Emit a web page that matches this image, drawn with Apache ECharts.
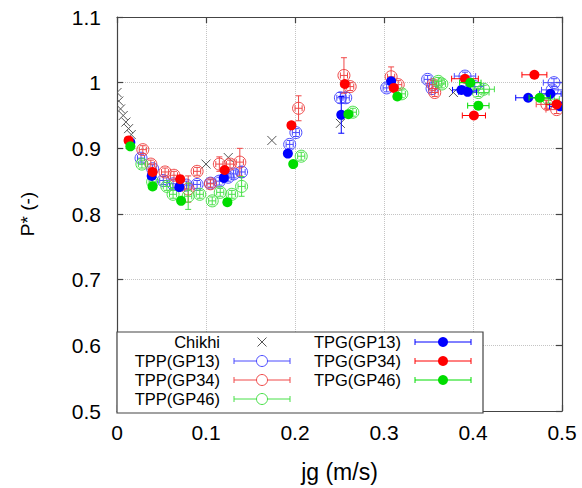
<!DOCTYPE html>
<html><head><meta charset="utf-8">
<script src="https://cdn.jsdelivr.net/npm/echarts@6/dist/echarts.min.js"></script>
<style>html,body{margin:0;padding:0;background:#fff}#c{width:582px;height:488px}</style>
</head><body><div id="c"></div>
<script>
// ---------- data (x = jg, y = P*, xerr, yerr) ----------
const xTicks = [0, 0.1, 0.2, 0.3, 0.4, 0.5];
const xTickLabels = ['0', '0.1', '0.2', '0.3', '0.4', '0.5'];
const yTicks = [0.5, 0.6, 0.7, 0.8, 0.9, 1.0, 1.1];
const yTickLabels = ['0.5', '0.6', '0.7', '0.8', '0.9', '1', '1.1'];

const seriesNames = ['Chikhi', 'TPP(GP13)', 'TPP(GP34)', 'TPP(GP46)', 'TPG(GP13)', 'TPG(GP34)', 'TPG(GP46)'];

const chikhi = [
  [0.000, 0.985], [0.002, 0.972], [0.004, 0.960], [0.007, 0.950], [0.010, 0.940], [0.013, 0.930], [0.016, 0.921],
  [0.100, 0.876], [0.125, 0.886], [0.174, 0.912], [0.251, 0.938], [0.378, 0.985]
];
const tppGP13 = [
  [0.027, 0.885, 0.004, 0.006], [0.040, 0.869, 0.004, 0.006], [0.052, 0.851, 0.004, 0.006],
  [0.063, 0.846, 0.004, 0.006], [0.078, 0.844, 0.004, 0.006], [0.090, 0.845, 0.004, 0.006],
  [0.105, 0.847, 0.004, 0.006], [0.115, 0.850, 0.004, 0.006], [0.125, 0.856, 0.004, 0.006],
  [0.131, 0.861, 0.004, 0.006], [0.140, 0.864, 0.004, 0.008], [0.194, 0.906, 0.004, 0.006],
  [0.201, 0.924, 0.004, 0.006], [0.251, 0.977, 0.004, 0.008], [0.257, 0.977, 0.004, 0.008],
  [0.303, 0.992, 0.004, 0.006], [0.349, 1.005, 0.004, 0.006], [0.354, 0.991, 0.004, 0.006],
  [0.391, 1.010, 0.012, 0.006], [0.402, 0.994, 0.010, 0.006], [0.491, 1.000, 0.012, 0.006],
  [0.489, 0.989, 0.012, 0.006]
];
const tppGP34 = [
  [0.029, 0.898, 0.004, 0.006], [0.038, 0.876, 0.004, 0.006], [0.054, 0.864, 0.004, 0.006],
  [0.064, 0.859, 0.004, 0.006], [0.080, 0.838, 0.004, 0.020], [0.090, 0.865, 0.004, 0.006],
  [0.105, 0.846, 0.004, 0.006], [0.115, 0.876, 0.004, 0.011], [0.127, 0.876, 0.004, 0.006],
  [0.138, 0.879, 0.004, 0.021], [0.204, 0.961, 0.004, 0.019], [0.255, 1.011, 0.004, 0.027],
  [0.262, 0.994, 0.004, 0.006], [0.308, 1.009, 0.004, 0.015], [0.316, 0.997, 0.004, 0.006],
  [0.355, 0.997, 0.004, 0.006], [0.357, 0.985, 0.004, 0.006], [0.483, 0.967, 0.012, 0.006],
  [0.494, 0.959, 0.012, 0.006]
];
const tppGP46 = [
  [0.028, 0.876, 0.004, 0.006], [0.040, 0.849, 0.004, 0.006], [0.056, 0.842, 0.004, 0.006],
  [0.063, 0.830, 0.004, 0.006], [0.080, 0.827, 0.004, 0.020], [0.093, 0.830, 0.004, 0.006],
  [0.107, 0.820, 0.004, 0.006], [0.116, 0.833, 0.004, 0.006], [0.129, 0.830, 0.004, 0.006],
  [0.140, 0.842, 0.004, 0.015], [0.207, 0.888, 0.004, 0.006], [0.265, 0.955, 0.004, 0.006],
  [0.320, 0.983, 0.004, 0.006], [0.361, 1.002, 0.004, 0.006], [0.365, 0.998, 0.004, 0.006],
  [0.406, 0.985, 0.012, 0.006], [0.412, 0.990, 0.012, 0.006], [0.485, 0.975, 0.012, 0.006]
];
const tpgGP13 = [
  [0.015, 0.909, 0.004, 0.004], [0.039, 0.858, 0.004, 0.004], [0.070, 0.841, 0.004, 0.004],
  [0.120, 0.855, 0.004, 0.004], [0.192, 0.892, 0.004, 0.004], [0.252, 0.951, 0.004, 0.028],
  [0.308, 1.002, 0.004, 0.004], [0.387, 0.989, 0.010, 0.004], [0.394, 0.986, 0.010, 0.004],
  [0.462, 0.977, 0.014, 0.004], [0.487, 0.983, 0.012, 0.004], [0.498, 0.964, 0.012, 0.004]
];
const tpgGP34 = [
  [0.013, 0.912, 0.004, 0.004], [0.040, 0.864, 0.004, 0.004], [0.071, 0.853, 0.004, 0.004],
  [0.121, 0.867, 0.004, 0.004], [0.196, 0.935, 0.004, 0.004], [0.256, 0.998, 0.004, 0.004],
  [0.311, 0.992, 0.004, 0.004], [0.391, 1.006, 0.015, 0.004], [0.401, 0.950, 0.013, 0.004],
  [0.469, 1.012, 0.014, 0.004], [0.494, 0.967, 0.012, 0.004]
];
const tpgGP46 = [
  [0.015, 0.903, 0.004, 0.004], [0.040, 0.842, 0.004, 0.004], [0.072, 0.820, 0.004, 0.004],
  [0.124, 0.818, 0.004, 0.004], [0.198, 0.876, 0.004, 0.004], [0.260, 0.952, 0.004, 0.004],
  [0.315, 0.979, 0.004, 0.004], [0.397, 1.000, 0.012, 0.004], [0.406, 0.965, 0.012, 0.004],
  [0.475, 0.977, 0.012, 0.004]
];

// ---------- styling ----------
const FONT = '"Liberation Sans", Arial, Helvetica, sans-serif';
const COL = {
  chikhi: '#555555',
  blueOpen: '#4a4aff', redOpen: '#f04848', greenOpen: '#48e048',
  blue: '#0000ff', red: '#ff0000', green: '#00dd00'
};

function renderer(kind, color) {
  return function (params, api) {
    const x = api.value(0), y = api.value(1);
    const c = api.coord([x, y]);
    const ch = [];
    const ln = (x1, y1, x2, y2) => ch.push({ type: 'line', shape: { x1, y1, x2, y2 }, style: { stroke: color, lineWidth: 1 } });
    if (kind === 'cross') {
      const s = 4.5;
      ln(c[0] - s, c[1] - s, c[0] + s, c[1] + s);
      ln(c[0] - s, c[1] + s, c[0] + s, c[1] - s);
      return { type: 'group', children: ch };
    }
    const xe = api.value(2), ye = api.value(3), cap = 3;
    if (xe > 0) {
      const l = api.coord([x - xe, y])[0], r = api.coord([x + xe, y])[0];
      ln(l, c[1], r, c[1]); ln(l, c[1] - cap, l, c[1] + cap); ln(r, c[1] - cap, r, c[1] + cap);
    }
    if (ye > 0) {
      const t = api.coord([x, y + ye])[1], b = api.coord([x, y - ye])[1];
      ln(c[0], t, c[0], b); ln(c[0] - cap, t, c[0] + cap, t); ln(c[0] - cap, b, c[0] + cap, b);
    }
    if (kind === 'open') {
      ch.push({ type: 'circle', shape: { cx: c[0], cy: c[1], r: 6 }, style: { fill: 'none', stroke: color, lineWidth: 1 } });
    } else {
      ch.push({ type: 'circle', shape: { cx: c[0], cy: c[1], r: 5 }, style: { fill: color } });
    }
    return { type: 'group', children: ch };
  };
}

function ser(name, data, kind, color) {
  return {
    name, type: 'custom', data, clip: true, silent: true,
    renderItem: renderer(kind, color),
    encode: { x: 0, y: 1 }
  };
}

// ---------- legend (drawn as graphic, gnuplot style) ----------
const legendG = [];
const box = { x: 117, y: 332, w: 366, h: 81 };
legendG.push({ type: 'rect', shape: { x: box.x, y: box.y, width: box.w, height: box.h }, style: { fill: '#fff', stroke: '#444', lineWidth: 1.2 }, z: 100 });
const rowsY = [342, 361, 380, 399];
function legEntry(text, textRight, row, kind, color) {
  const y = rowsY[row];
  legendG.push({ type: 'text', z: 101, style: { text, x: textRight, y, align: 'right', verticalAlign: 'middle', font: '16.5px ' + FONT, fill: '#000', lineHeight: 17 } });
  const l = textRight + 14, r = l + 56, cx = (l + r) / 2;
  const L = (x1, y1, x2, y2) => legendG.push({ type: 'line', z: 101, shape: { x1, y1, x2, y2 }, style: { stroke: color, lineWidth: 1 } });
  if (kind === 'cross') {
    L(cx - 4.5, y - 4.5, cx + 4.5, y + 4.5); L(cx - 4.5, y + 4.5, cx + 4.5, y - 4.5);
    return;
  }
  L(l, y, r, y); L(l, y - 3, l, y + 3); L(r, y - 3, r, y + 3);
  if (kind === 'open') legendG.push({ type: 'circle', z: 102, shape: { cx, cy: y, r: 5.5 }, style: { fill: '#fff', stroke: color, lineWidth: 1 } });
  else legendG.push({ type: 'circle', z: 102, shape: { cx, cy: y, r: 5 }, style: { fill: color } });
}
legEntry(seriesNames[0], 220, 0, 'cross', COL.chikhi);
legEntry(seriesNames[1], 220, 1, 'open', COL.blueOpen);
legEntry(seriesNames[2], 220, 2, 'open', COL.redOpen);
legEntry(seriesNames[3], 220, 3, 'open', COL.greenOpen);
legEntry(seriesNames[4], 401, 0, 'filled', COL.blue);
legEntry(seriesNames[5], 401, 1, 'filled', COL.red);
legEntry(seriesNames[6], 401, 2, 'filled', COL.green);

function lab(ticks, labels) {
  return v => { const i = ticks.findIndex(t => Math.abs(t - v) < 1e-6); return i >= 0 ? labels[i] : ''; };
}

const axisLineStyle = { color: '#444', width: 1.2 };
const chart = echarts.init(document.getElementById('c'), null, { renderer: 'svg' });
chart.setOption({
  animation: false,
  backgroundColor: '#fff',
  grid: { left: 117, right: 20, top: 17, bottom: 75, containLabel: false },
  xAxis: [{
    type: 'value', min: 0, max: 0.5, interval: 0.1, position: 'bottom',
    name: 'jg (m/s)', nameLocation: 'middle', nameGap: 49,
    nameTextStyle: { fontFamily: FONT, fontSize: 23, color: '#000' },
    axisLine: { show: true, onZero: false, lineStyle: axisLineStyle },
    axisTick: { show: true, inside: true, length: 6, lineStyle: axisLineStyle },
    axisLabel: { formatter: lab(xTicks, xTickLabels), fontFamily: FONT, fontSize: 21, color: '#000', margin: 11 },
    splitLine: { show: true, lineStyle: { type: 'dotted', color: '#c4c4c4', width: 1 } }
  }, {
    type: 'value', min: 0, max: 0.5, interval: 0.1, position: 'top',
    axisLine: { show: true, onZero: false, lineStyle: axisLineStyle },
    axisTick: { show: true, inside: true, length: 6, lineStyle: axisLineStyle },
    axisLabel: { show: false }, splitLine: { show: false }
  }],
  yAxis: [{
    type: 'value', min: 0.5, max: 1.1, interval: 0.1, position: 'left',
    name: 'P* (-)', nameLocation: 'middle', nameGap: 80, nameRotate: 90,
    nameTextStyle: { fontFamily: FONT, fontSize: 19, color: '#000' },
    axisLine: { show: true, onZero: false, lineStyle: axisLineStyle },
    axisTick: { show: true, inside: true, length: 6, lineStyle: axisLineStyle },
    axisLabel: { formatter: lab(yTicks, yTickLabels), fontFamily: FONT, fontSize: 21, color: '#000', margin: 16 },
    splitLine: { show: true, lineStyle: { type: 'dotted', color: '#c4c4c4', width: 1 } }
  }, {
    type: 'value', min: 0.5, max: 1.1, interval: 0.1, position: 'right',
    axisLine: { show: true, onZero: false, lineStyle: axisLineStyle },
    axisTick: { show: true, inside: true, length: 6, lineStyle: axisLineStyle },
    axisLabel: { show: false }, splitLine: { show: false }
  }],
  series: [
    ser(seriesNames[0], chikhi, 'cross', COL.chikhi),
    ser(seriesNames[1], tppGP13, 'open', COL.blueOpen),
    ser(seriesNames[2], tppGP34, 'open', COL.redOpen),
    ser(seriesNames[3], tppGP46, 'open', COL.greenOpen),
    ser(seriesNames[4], tpgGP13, 'filled', COL.blue),
    ser(seriesNames[5], tpgGP34, 'filled', COL.red),
    ser(seriesNames[6], tpgGP46, 'filled', COL.green)
  ],
  graphic: legendG
});
</script>
</body></html>
